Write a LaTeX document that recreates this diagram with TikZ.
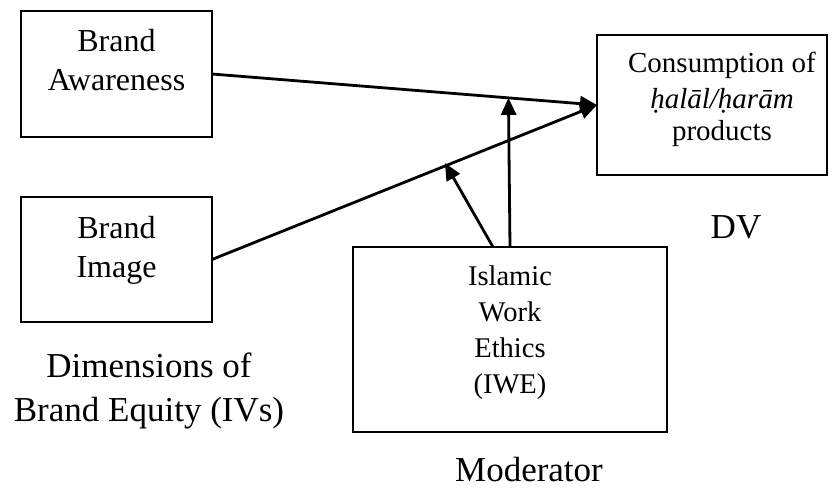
\documentclass[tikz,border=0pt]{standalone}
\usepackage{fontspec}
\setmainfont{Liberation Serif}
\usetikzlibrary{arrows.meta,calc}
\begin{document}
\begin{tikzpicture}[x=1pt,y=-1pt,
  box/.style={draw, line width=1.4pt, inner sep=0pt, outer sep=0pt},
  conn/.style={line width=2.8pt, -{Triangle[length=17pt,width=15pt]}},
  tb/.style={anchor=base, inner sep=0pt, font=\fontsize{32}{38}\selectfont},
  tc/.style={anchor=base, inner sep=0pt, font=\fontsize{29}{34}\selectfont},
  ti/.style={anchor=base, inner sep=0pt, font=\fontsize{28.5}{34}\selectfont},
  tl/.style={anchor=base, inner sep=0pt, font=\fontsize{35}{42}\selectfont}]
\useasboundingbox (0,0) rectangle (833,495);
% boxes
\node[box, minimum width=191pt, minimum height=126pt] (ba) at (116.5,74) {};
\node[box, minimum width=191pt, minimum height=125pt] (bi) at (116.5,259.5) {};
\node[box, minimum width=230pt, minimum height=140pt] (cons) at (712,105) {};
\node[box, minimum width=314pt, minimum height=185pt] (iwe) at (510,339.5) {};
% texts
\node[tb] (ba1) at (116.5,52) {Brand};
\node[tb] (ba2) at (116.5,91) {Awareness};
\node[tb] (bi1) at (116.5,238) {Brand};
\node[tb] (bi2) at (116.5,277) {Image};
\node[tc] (c1) at (722,73) {Consumption of};
\node[tc] (c2) at (722,108) {\itshape ḥalāl/ḥarām};
\node[tc] (c3) at (722,140) {products};
\node[ti] (i1) at (510,285) {Islamic};
\node[ti] (i2) at (510,321) {Work};
\node[ti] (i3) at (510,357) {Ethics};
\node[ti] (i4) at (510,393) {(IWE)};
\node[tl] (d1) at (149,377) {Dimensions of};
\node[tl] (d2) at (149,421) {Brand Equity (IVs)};
\node[tl] (dv) at (736,238) {DV};
\node[tl] (mod) at (529,481) {Moderator};
% connectors
\draw[conn] (ba.east) -- (cons.west);
\draw[conn] (bi.east) -- (cons.west);
\coordinate (m1) at ($(ba.east)!0.77!(cons.west)$);
\coordinate (m2) at ($(bi.east)!0.605!(cons.west)$);
\draw[conn] (iwe.north) -- (m1);
\draw[conn] ([xshift=-17pt]iwe.north) -- ([yshift=3pt]m2);
\end{tikzpicture}
\end{document}
